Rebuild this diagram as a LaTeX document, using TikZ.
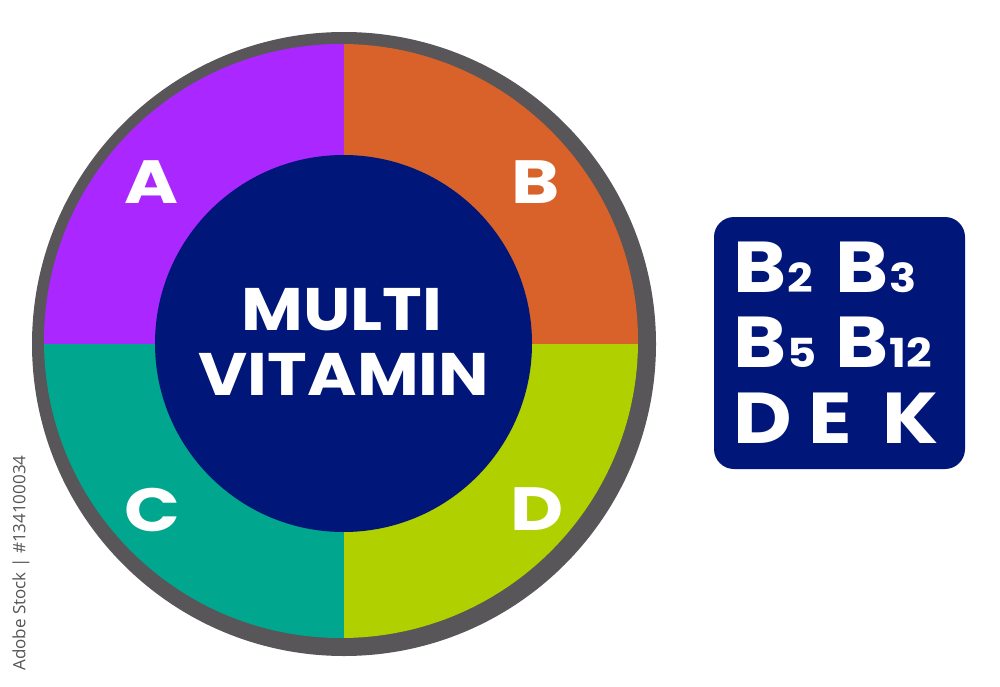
\documentclass[tikz,border=0pt]{standalone}
\usepackage{fontspec}
\newfontfamily\pop{Poppins}[FakeStretch=1.12]
\newfontfamily\popw{Poppins}[FakeStretch=1.2]
\newfontfamily\osans{Open Sans}
\definecolor{vpurple}{RGB}{170,40,255}
\definecolor{vorange}{RGB}{216,98,42}
\definecolor{vteal}{RGB}{0,166,142}
\definecolor{vlime}{RGB}{176,208,0}
\definecolor{vnavy}{RGB}{0,22,120}
\definecolor{vring}{RGB}{88,86,88}
\definecolor{wmgray}{RGB}{85,85,85}
\tikzset{
  seglabel/.style={text=white,font=\popw\bfseries\fontsize{61}{61}\selectfont,inner sep=0pt,anchor=base},
  midlabel/.style={text=white,font=\pop\bfseries\fontsize{60}{60}\selectfont,inner sep=0pt,anchor=base},
  boxlabel/.style={text=white,font=\pop\bfseries\fontsize{72}{72}\selectfont,inner sep=0pt,anchor=base west},
}
\newcommand{\vsub}[1]{{\fontsize{40}{40}\selectfont\kern1pt #1}}
\begin{document}
\begin{tikzpicture}[x=1pt,y=-1pt]
\useasboundingbox (0,0) rectangle (1000,687);
% ring
\fill[vring] (344,344) circle[radius=312];
% coloured quadrants
\begin{scope}
  \clip (341,341) circle[radius=297];
  \fill[vpurple] (0,0) rectangle (344,344);
  \fill[vorange] (344,0) rectangle (700,344);
  \fill[vteal] (0,344) rectangle (344,700);
  \fill[vlime] (344,344) rectangle (700,700);
\end{scope}
% inner circle
\fill[vnavy] (343.5,343.5) circle[radius=188.5];
% labels
\node[seglabel] (la) at (151,203) {A};
\node[seglabel] (lb) at (536,203) {B};
\node[seglabel] (lc) at (152,531) {C};
\node[seglabel] (ld) at (537,530) {D};
\node[midlabel] (multi) at (342,330) {MULTI};
\node[midlabel] (vitamin) at (344,395) {VITAMIN};
% box
\fill[vnavy,rounded corners=20pt] (714,217) rectangle (965,469);
\node[boxlabel] (b2) at (733,292) {B\vsub{2}};
\node[boxlabel] (b3) at (835,292) {B\vsub{3}};
\node[boxlabel] (b5) at (733,367) {B\vsub{5}};
\node[boxlabel] (b12) at (835,367) {B\vsub{12}};
\node[boxlabel] (d) at (733,443) {D};
\node[boxlabel] (e) at (808,443) {E};
\node[boxlabel] (k) at (882,443) {K};
% side text
\node[rotate=90,text=wmgray,font=\osans\fontsize{17}{17}\selectfont,inner sep=0pt] (wm) at (21,563) {Adobe Stock | \#134100034};
\end{tikzpicture}
\end{document}
